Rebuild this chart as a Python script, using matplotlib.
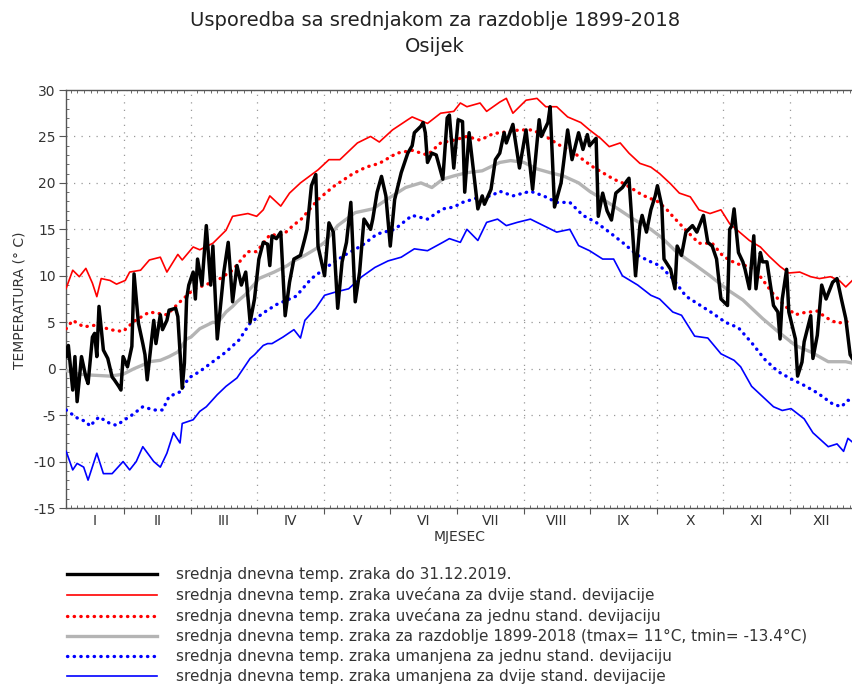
import matplotlib
matplotlib.use("Agg")
import matplotlib.pyplot as plt
from matplotlib.lines import Line2D
from matplotlib.ticker import MultipleLocator, FixedLocator, NullFormatter
from matplotlib.transforms import blended_transform_factory

plt.rcParams['font.family'] = ['DejaVu Sans']
plt.rcParams['axes.unicode_minus'] = False

# months drawn with equal width (365/12 days)
MONTH = 365 / 12.0
month_labels = ['I', 'II', 'III', 'IV', 'V', 'VI', 'VII', 'VIII', 'IX', 'X', 'XI', 'XII']

# daily mean temperature 2019 (day of year, deg C)
black_days = [4, 5, 7, 8, 9, 11, 13, 14, 16, 17,
              18, 19, 21, 23, 25, 26, 28, 29, 30, 32,
              34, 35, 37, 39, 40, 41, 44, 45, 47, 48,
              50, 51, 54, 55, 57, 58, 59, 60, 62, 63,
              64, 66, 68, 70, 71, 73, 76, 78, 80, 82,
              84, 86, 88, 90, 92, 94, 96, 97, 98, 100,
              102, 104, 106, 108, 111, 113, 114, 116, 118, 119,
              121, 122, 124, 126, 128, 130, 132, 134, 136, 138,
              140, 143, 144, 146, 148, 150, 152, 154, 157, 160,
              162, 163, 166, 167, 168, 169, 171, 173, 176, 178,
              179, 181, 183, 185, 186, 188, 192, 194, 195, 198,
              200, 202, 204, 205, 208, 209, 211, 214, 215, 217,
              220, 221, 224, 225, 227, 230, 233, 235, 238, 240,
              242, 243, 246, 247, 249, 251, 253, 255, 258, 260,
              261, 264, 266, 267, 269, 271, 273, 274, 276, 277,
              280, 282, 283, 285, 287, 290, 292, 295, 297, 299,
              301, 303, 306, 307, 308, 309, 311, 313, 314, 316,
              318, 319, 321, 322, 324, 327, 329, 330, 331, 333,
              334, 337, 338, 340, 341, 344, 345, 347, 349, 351,
              354, 356, 358, 360, 362, 363]
black_vals = [1.3, 2.5, -2.3, 1.3, -3.55, 1.3, -0.9, -1.6, 3.4, 3.8,
              1.3, 6.7, 2.0, 1.1, -0.9, -1.2, -1.9, -2.3, 1.3, 0.2,
              2.4, 10.2, 4.9, 2.7, 1.5, -1.2, 5.2, 2.7, 5.8, 4.2,
              5.2, 6.3, 6.5, 5.6, -2.1, 0.6, 7.5, 9.0, 10.4, 7.5,
              11.8, 9.0, 15.4, 9.0, 13.2, 3.2, 10.4, 13.6, 7.2, 11.1,
              9.0, 10.4, 5.0, 7.5, 11.8, 13.6, 13.4, 11.1, 14.3, 14.0,
              14.7, 5.7, 9.3, 11.8, 12.2, 14.0, 15.0, 19.7, 20.9, 13.2,
              11.1, 10.0, 15.7, 14.7, 6.5, 11.5, 13.6, 17.9, 7.2, 10.4,
              16.1, 15.0, 16.1, 19.0, 20.7, 18.6, 13.2, 18.2, 21.1, 23.2,
              24.0, 25.4, 26.1, 26.5, 25.4, 22.2, 23.2, 23.0, 20.4, 27.0,
              27.3, 21.6, 26.8, 26.6, 19.0, 25.4, 17.2, 18.6, 17.7, 19.3,
              22.5, 23.2, 25.4, 24.3, 26.3, 24.7, 21.6, 25.7, 23.6, 19.3,
              26.8, 25.0, 26.5, 28.2, 17.4, 20.0, 25.7, 22.5, 25.4, 23.6,
              25.2, 24.0, 24.8, 16.4, 18.9, 17.0, 16.0, 18.9, 19.5, 20.2,
              20.5, 10.0, 15.4, 16.5, 14.7, 17.1, 18.6, 19.7, 17.5, 11.8,
              10.7, 8.6, 13.2, 12.2, 14.7, 15.4, 14.7, 16.5, 13.6, 13.2,
              11.8, 7.5, 6.8, 15.0, 15.4, 17.2, 12.5, 11.5, 10.7, 8.6,
              14.3, 8.6, 12.5, 11.5, 11.5, 6.8, 6.1, 3.2, 7.5, 10.7,
              6.1, 3.2, -0.8, 0.7, 2.9, 5.7, 1.1, 3.6, 9.0, 7.5,
              9.3, 9.7, 7.5, 5.4, 1.5, 1.1]

# mean 1899-2018
gray_days = [4, 10, 16, 24, 30, 35, 39, 42, 47, 51,
             55, 57, 59, 61, 65, 71, 73, 77, 80, 82,
             86, 88, 90, 92, 99, 105, 108, 113, 118, 122,
             128, 136, 144, 151, 159, 166, 171, 176, 181, 187,
             194, 202, 207, 213, 219, 225, 231, 238, 243, 249,
             256, 263, 271, 276, 283, 291, 298, 306, 313, 322,
             329, 337, 344, 352, 360, 363]
gray_vals = [-0.2, -0.6, -0.7, -0.8, -0.6, 0.0, 0.4, 0.75, 0.9, 1.3,
             1.8, 2.5, 3.2, 3.4, 4.3, 5.0, 4.9, 6.1, 6.7, 7.2,
             8.0, 8.6, 9.1, 9.7, 10.4, 11.1, 11.6, 12.2, 12.9, 13.6,
             15.4, 16.8, 17.2, 18.3, 19.5, 20.0, 19.5, 20.4, 20.75, 21.1,
             21.3, 22.2, 22.4, 22.2, 21.5, 21.1, 20.75, 20.0, 19.1, 18.25,
             17.2, 16.1, 15.0, 14.1, 12.5, 11.2, 10.0, 8.5, 7.4, 5.4,
             4.0, 2.5, 1.8, 0.75, 0.75, 0.6]

# mean + 2 sd
red2_days = [4, 7, 10, 13, 16, 18, 20, 24, 27, 31,
             33, 38, 42, 47, 50, 55, 57, 62, 65, 71,
             77, 80, 87, 91, 94, 97, 102, 106, 111, 119,
             124, 129, 137, 143, 147, 153, 160, 162, 169, 175,
             181, 184, 187, 193, 196, 202, 205, 208, 214, 219,
             223, 228, 233, 239, 243, 248, 252, 257, 261, 266,
             271, 275, 280, 284, 289, 293, 298, 303, 307, 312,
             316, 321, 325, 330, 334, 339, 344, 348, 353, 357,
             360, 363]
red2_vals = [8.65, 10.6, 9.9, 10.8, 9.2, 7.75, 9.7, 9.5, 9.1, 9.5,
             10.4, 10.6, 11.7, 12.0, 10.4, 12.3, 11.7, 13.1, 12.8, 13.5,
             14.9, 16.4, 16.7, 16.4, 17.1, 18.6, 17.5, 18.9, 20.0, 21.4,
             22.5, 22.5, 24.3, 25.0, 24.4, 25.7, 26.8, 27.1, 26.4, 27.5,
             27.7, 28.6, 28.2, 28.6, 27.7, 28.7, 29.1, 27.5, 28.9, 29.1,
             28.2, 28.2, 27.1, 26.5, 25.7, 24.8, 23.9, 24.3, 23.2, 22.1,
             21.7, 21.0, 19.9, 18.9, 18.5, 17.1, 16.7, 17.1, 15.6, 14.6,
             13.8, 13.1, 12.1, 11.0, 10.3, 10.4, 9.9, 9.7, 9.9, 9.5,
             8.8, 9.5]

# mean + 1 sd
red1_days = [4, 7, 12, 18, 24, 30, 35, 42, 50, 56,
             62, 65, 73, 80, 87, 91, 97, 103, 108, 111,
             119, 126, 135, 141, 147, 155, 162, 169, 175, 181,
             187, 193, 199, 205, 211, 217, 223, 229, 235, 240,
             244, 249, 254, 258, 263, 267, 274, 278, 281, 287,
             293, 299, 304, 310, 316, 321, 327, 333, 337, 340,
             347, 351, 356, 362]
red1_vals = [4.3, 5.2, 4.5, 4.7, 4.2, 4.0, 5.1, 6.1, 5.8, 7.2,
             8.5, 8.8, 9.5, 10.6, 12.6, 12.6, 14.4, 14.4, 15.5, 16.0,
             18.2, 19.6, 21.0, 21.7, 22.1, 23.2, 23.5, 23.0, 24.3, 24.6,
             25.0, 24.6, 25.3, 25.5, 25.7, 25.7, 25.0, 24.1, 23.4, 22.5,
             21.8, 21.1, 20.4, 20.0, 19.3, 18.7, 18.0, 17.2, 16.4, 14.9,
             13.5, 13.5, 12.1, 11.3, 11.0, 9.9, 8.0, 6.6, 5.8, 6.0,
             6.2, 5.5, 4.9, 5.1]

# mean - 1 sd
blue1_days = [4, 9, 13, 15, 16, 19, 24, 27, 32, 34,
              39, 44, 48, 51, 56, 60, 65, 71, 77, 83,
              88, 94, 100, 105, 109, 116, 124, 131, 139, 146,
              154, 162, 169, 176, 181, 185, 192, 198, 202, 208,
              216, 222, 228, 234, 240, 246, 252, 258, 265, 271,
              275, 281, 287, 293, 299, 305, 311, 317, 323, 329,
              335, 341, 347, 354, 358, 361, 363]
blue1_vals = [-4.45, -5.3, -5.7, -6.2, -5.9, -5.2, -5.9, -6.1, -5.3, -5.0,
              -4.1, -4.45, -4.45, -3.0, -2.5, -1.0, -0.3, 0.75, 1.8, 3.1,
              4.9, 6.0, 6.9, 7.4, 7.8, 9.7, 11.1, 12.2, 13.25, 14.5,
              15.0, 16.5, 16.1, 17.2, 17.4, 17.9, 18.4, 18.6, 19.1, 18.6,
              19.1, 18.6, 17.9, 17.9, 16.5, 15.75, 14.7, 13.6, 12.2, 11.5,
              11.1, 9.7, 7.8, 6.9, 6.0, 5.0, 4.4, 2.8, 1.0, -0.3,
              -1.1, -1.8, -2.6, -3.8, -4.1, -3.4, -3.5]

# mean - 2 sd
blue2_days = [4, 7, 9, 12, 14, 18, 21, 25, 30, 33,
              36, 39, 44, 47, 50, 53, 56, 57, 62, 65,
              68, 73, 77, 82, 88, 90, 94, 96, 98, 103,
              108, 111, 113, 118, 122, 127, 133, 139, 145, 151,
              157, 163, 169, 176, 179, 184, 187, 192, 196, 201,
              205, 210, 216, 222, 228, 234, 238, 243, 249, 254,
              258, 265, 271, 275, 281, 285, 291, 297, 303, 309,
              312, 317, 322, 327, 331, 335, 341, 345, 352, 356,
              359, 361, 363]
blue2_vals = [-8.9, -10.9, -10.2, -10.6, -12.0, -9.1, -11.3, -11.3, -10.0, -10.9,
              -10.0, -8.4, -10.0, -10.6, -9.1, -6.9, -8.0, -5.9, -5.5, -4.6,
              -4.1, -2.8, -1.9, -1.0, 1.1, 1.5, 2.5, 2.7, 2.7, 3.4,
              4.2, 3.3, 5.2, 6.5, 7.9, 8.25, 8.6, 9.9, 10.9, 11.6,
              12.0, 12.9, 12.7, 13.6, 14.0, 13.6, 15.0, 13.8, 15.75, 16.1,
              15.4, 15.75, 16.1, 15.4, 14.7, 15.0, 13.25, 12.7, 11.8, 11.8,
              10.0, 9.0, 7.9, 7.5, 6.1, 5.75, 3.5, 3.3, 1.6, 0.9,
              0.2, -1.9, -3.0, -4.1, -4.5, -4.3, -5.4, -6.9, -8.4, -8.1,
              -8.9, -7.5, -7.9]

labels = ['srednja dnevna temp. zraka do 31.12.2019.',
          'srednja dnevna temp. zraka uvećana za dvije stand. devijacije',
          'srednja dnevna temp. zraka uvećana za jednu stand. devijaciju',
          'srednja dnevna temp. zraka za razdoblje 1899-2018 (tmax= 11°C, tmin= -13.4°C)',
          'srednja dnevna temp. zraka umanjena za jednu stand. devijaciju',
          'srednja dnevna temp. zraka umanjena za dvije stand. devijacije']

GRAY = '#b4b4b4'
DOTS = (0, (0.1, 1.9))
txt_col = '#333333'
spine_col = '#555555'

fig = plt.figure(figsize=(8.52, 6.85), dpi=100)
ax = fig.add_axes([65.5 / 852, 1 - 508 / 685, (860 - 65.5) / 852, (508 - 90) / 685])

ax.plot(gray_days, gray_vals, color=GRAY, lw=2.4, zorder=3)
ax.plot(red2_days, red2_vals, color='red', lw=1.2, zorder=4)
ax.plot(red1_days, red1_vals, color='red', lw=2.4, ls=DOTS, dash_capstyle='round', zorder=4)
ax.plot(blue1_days, blue1_vals, color='blue', lw=2.4, ls=DOTS, dash_capstyle='round', zorder=4)
ax.plot(blue2_days, blue2_vals, color='blue', lw=1.2, zorder=4)
ax.plot(black_days, black_vals, color='black', lw=2.5, zorder=5)

ax.set_xlim(3.7, 366.5)
ax.set_ylim(-15, 30)

ax.xaxis.set_major_locator(FixedLocator([k * MONTH for k in range(1, 13)]))
ax.xaxis.set_minor_locator(FixedLocator([k * MONTH / 10 for k in range(1, 121)]))
ax.xaxis.set_major_formatter(NullFormatter())
ax.yaxis.set_major_locator(MultipleLocator(5))
ax.yaxis.set_minor_locator(MultipleLocator(1))

ax.tick_params(axis='x', which='major', direction='out', length=4, color=spine_col, top=False)
ax.tick_params(axis='x', which='minor', direction='in', length=2.5, color=spine_col, top=True)
ax.tick_params(axis='y', which='major', direction='out', length=5, color=spine_col,
               labelsize=10, labelcolor=txt_col, pad=2)
ax.tick_params(axis='y', which='minor', direction='in', length=2.5, color=spine_col)

for s in ['left', 'bottom', 'top']:
    ax.spines[s].set_color(spine_col)
    ax.spines[s].set_linewidth(1.0)
ax.spines['right'].set_visible(False)

ax.grid(True, which='major', color='#999999', linestyle=(0, (1, 5)), linewidth=0.9, zorder=0)

# month names centred in the visible part of each month
tr = blended_transform_factory(ax.transData, ax.transAxes)
for i, name in enumerate(month_labels):
    lo = max(i * MONTH, 3.7)
    hi = min((i + 1) * MONTH, 362.9)
    ax.text((lo + hi) / 2, -0.031, name, transform=tr, ha='center', va='center',
            fontsize=10, color=txt_col)

fig.text(460 / 852, 1 - 537 / 685, 'MJESEC', ha='center', va='center', fontsize=10, color=txt_col)
fig.text(20 / 852, 1 - 300 / 685, 'TEMPERATURA (° C)', rotation=90, ha='center', va='center',
         fontsize=10, color=txt_col)

fig.text(435 / 852, 1 - 20 / 685, 'Usporedba sa srednjakom za razdoblje 1899-2018',
         ha='center', va='center', fontsize=14, color='#222222')
fig.text(435 / 852, 1 - 47 / 685, 'Osijek', ha='center', va='center', fontsize=14, color='#222222')

handles = [Line2D([], [], color='black', lw=2.4),
           Line2D([], [], color='red', lw=1.2),
           Line2D([], [], color='red', lw=2.4, ls=DOTS, dash_capstyle='round'),
           Line2D([], [], color=GRAY, lw=2.4),
           Line2D([], [], color='blue', lw=2.4, ls=DOTS, dash_capstyle='round'),
           Line2D([], [], color='blue', lw=1.2)]
fig.legend(handles, labels, loc='upper left', bbox_to_anchor=(67 / 852, 1 - 567 / 685),
           frameon=False, fontsize=11, handlelength=5.9, handletextpad=1.25,
           labelspacing=0.33, borderaxespad=0, borderpad=0, labelcolor=txt_col)

fig.savefig('out.png', dpi=100, facecolor='white')
